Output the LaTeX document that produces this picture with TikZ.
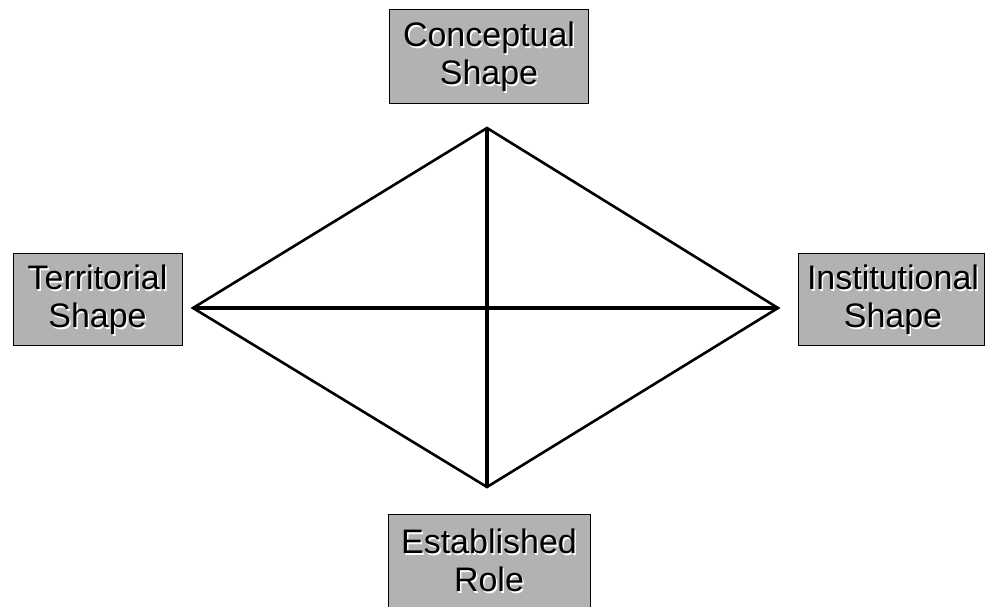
\documentclass[tikz,border=0pt]{standalone}
\usepackage{fontspec}
\setmainfont{Liberation Sans}
\definecolor{boxgray}{RGB}{178,178,178}
\begin{document}
\begin{tikzpicture}[x=1pt,y=1pt,
  box/.style={draw=black,line width=1pt,fill=boxgray,inner sep=0pt,rectangle},
  lbl/.style={font=\fontsize{34}{38}\selectfont,align=center,inner sep=0pt,text=black},
  lblshadow/.style={font=\fontsize{34}{38}\selectfont,align=center,inner sep=0pt,text=white},
  vline/.style={line width=4.5pt},
  hline/.style={line width=3.5pt},
  dline/.style={line width=2.6pt,line join=miter}]
\useasboundingbox (0,0) rectangle (985,607);
% boxes
\node[box,minimum width=199pt,minimum height=94pt] (conc) at (489,550) {};
\node[box,minimum width=169pt,minimum height=92pt] (terr) at (97.5,307) {};
\node[box,minimum width=186pt,minimum height=92pt] (inst) at (891,307) {};
\node[box,minimum width=202pt,minimum height=97pt] (estb) at (489,43.5) {};
% label shadows
\node[lblshadow] (concS) at ([shift={(1.5,-1.5)}]conc.center) {Conceptual\\Shape};
\node[lblshadow] (terrS) at ([shift={(1.5,-1.5)}]terr.center) {Territorial\\Shape};
\node[lblshadow] (instS) at ([shift={(3.5,-1.5)}]inst.center) {Institutional\\Shape};
\node[lblshadow] (estbS) at ([shift={(1.5,1.5)}]estb.center) {Established\\Role};
% labels
\node[lbl] (concT) at (conc.center) {Conceptual\\Shape};
\node[lbl] (terrT) at (terr.center) {Territorial\\Shape};
\node[lbl] (instT) at ([shift={(2,0)}]inst.center) {Institutional\\Shape};
\node[lbl] (estbT) at ([shift={(0,3)}]estb.center) {Established\\Role};
% diamond vertices
\coordinate (top) at (487,479);
\coordinate (bot) at (487,120);
\coordinate (lft) at (193,299);
\coordinate (rgt) at (778,299);
% lines
\draw[dline] (top) -- (lft) -- (bot) -- (rgt) -- cycle;
\draw[hline] (lft) -- (rgt);
\draw[vline] (top) -- (bot);
\end{tikzpicture}
\end{document}
